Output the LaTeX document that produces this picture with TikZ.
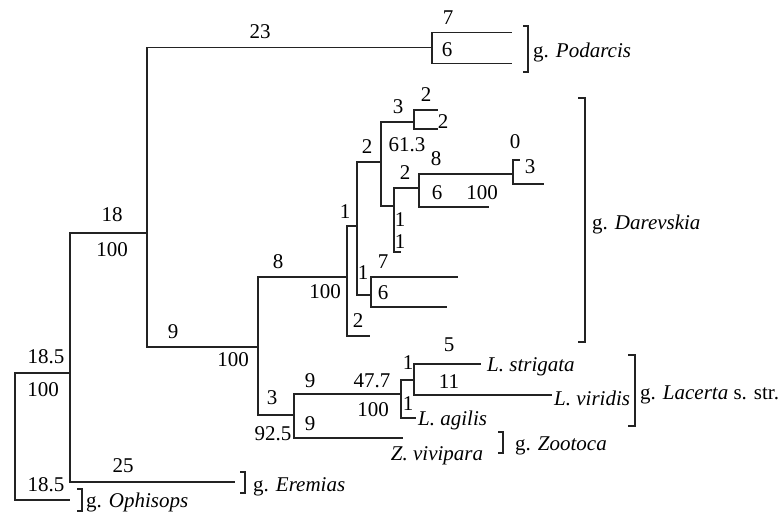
\documentclass[tikz,border=0pt]{standalone}
\usepackage{fontspec}
\setmainfont{Liberation Serif}
\definecolor{treeline}{RGB}{35,35,35}
\begin{document}
\begin{tikzpicture}[x=1pt,y=-1pt,
  branch/.style={line width=1.2pt, draw=treeline},
  bracket/.style={line width=1.2pt, draw=treeline},
  num/.style={font=\fontsize{21}{24}\selectfont, inner sep=0pt, text=black},
  taxon/.style={font=\fontsize{21}{24}\selectfont\itshape, inner sep=0pt, anchor=west, text=black},
  genus/.style={font=\fontsize{21}{24}\selectfont, inner sep=0pt, anchor=west, text=black}]
\useasboundingbox (0,0) rectangle (778,515);

% internal nodes of the tree
\coordinate (root) at (15,436);
\coordinate (A) at (70,373);
\coordinate (B) at (147,233);
\coordinate (P) at (432,47.7);
\coordinate (C) at (258,347);
\coordinate (D) at (347,277);
\coordinate (E) at (357,226);
\coordinate (F) at (381,162);
\coordinate (G) at (371,295);
\coordinate (H) at (414,122);
\coordinate (I) at (394,206);
\coordinate (J) at (419,188);
\coordinate (K) at (513,174);
\coordinate (L) at (294,415);
\coordinate (M) at (401,394);
\coordinate (N) at (414,380);

% branch tips
\coordinate (ophisops) at (70,500);
\coordinate (eremias) at (235,482);
\coordinate (pod1) at (512,32.3);
\coordinate (pod2) at (512,63.7);
\coordinate (dlow) at (370,336);
\coordinate (g1) at (458,277);
\coordinate (g2) at (447,307);
\coordinate (h1) at (438,110);
\coordinate (h2) at (438,129);
\coordinate (ilow) at (401,252);
\coordinate (jlow) at (489,207);
\coordinate (k1) at (520,160);
\coordinate (k2) at (544,184);
\coordinate (zoo) at (403,438);
\coordinate (agil) at (416,418);
\coordinate (strig) at (481,364);
\coordinate (virid) at (552,395);

% branches
\draw[branch] (root) |- (A);
\draw[branch] (root) |- (ophisops);
\draw[branch] (A) |- (B);
\draw[branch] (A) |- (eremias);
\draw[branch] (B) |- (P);
\draw[branch] (B) |- (C);
\draw[branch] (P) |- (pod1);
\draw[branch] (P) |- (pod2);
\draw[branch] (C) |- (D);
\draw[branch] (C) |- (L);
\draw[branch] (D) |- (E);
\draw[branch] (D) |- (dlow);
\draw[branch] (E) |- (F);
\draw[branch] (E) |- (G);
\draw[branch] (G) |- (g1);
\draw[branch] (G) |- (g2);
\draw[branch] (F) |- (H);
\draw[branch] (F) |- (I);
\draw[branch] (H) |- (h1);
\draw[branch] (H) |- (h2);
\draw[branch] (I) |- (J);
\draw[branch] (I) |- (ilow);
\draw[branch] (J) |- (K);
\draw[branch] (J) |- (jlow);
\draw[branch] (K) |- (k1);
\draw[branch] (K) |- (k2);
\draw[branch] (L) |- (M);
\draw[branch] (L) |- (zoo);
\draw[branch] (M) |- (N);
\draw[branch] (M) |- (agil);
\draw[branch] (N) |- (strig);
\draw[branch] (N) |- (virid);

% branch lengths and support values
\node[num] (t1) at (46,357) {18.5};
\node[num] (t2) at (43,390) {100};
\node[num] (t3) at (46,485) {18.5};
\node[num] (t4) at (112,215) {18};
\node[num] (t5) at (112,250) {100};
\node[num] (t6) at (123,466) {25};
\node[num] (t7) at (260,32) {23};
\node[num] (t8) at (173,332) {9};
\node[num] (t9) at (233,360) {100};
\node[num] (t10) at (448,18) {7};
\node[num] (t11) at (447,50) {6};
\node[num] (t12) at (278,262) {8};
\node[num] (t13) at (325,292) {100};
\node[num] (t14) at (272,398) {3};
\node[num] (t15) at (273,434) {92.5};
\node[num] (t16) at (310,381) {9};
\node[num] (t17) at (372,381) {47.7};
\node[num] (t18) at (373,410) {100};
\node[num] (t19) at (310,424) {9};
\node[num] (t20) at (408,363) {1};
\node[num] (t21) at (408,404) {1};
\node[num] (t22) at (449,345) {5};
\node[num] (t23) at (449,382) {11};
\node[num] (t24) at (345,212) {1};
\node[num] (t25) at (358,321) {2};
\node[num] (t26) at (367,147) {2};
\node[num] (t27) at (363,273) {1};
\node[num] (t28) at (383,262) {7};
\node[num] (t29) at (383,293) {6};
\node[num] (t30) at (398,107) {3};
\node[num] (t31) at (407,145) {61.3};
\node[num] (t32) at (426,95) {2};
\node[num] (t33) at (443,122) {2};
\node[num] (t34) at (405,173) {2};
\node[num] (t35) at (400,220) {1};
\node[num] (t36) at (400,242) {1};
\node[num] (t37) at (436,159) {8};
\node[num] (t38) at (437,193) {6};
\node[num] (t39) at (482,193) {100};
\node[num] (t40) at (515,142) {0};
\node[num] (t41) at (530,167) {3};

% species
\node[taxon] (sp1) at (487,367) {L. strigata};
\node[taxon] (sp2) at (554,398) {L. viridis};
\node[taxon] (sp3) at (418,420) {L. agilis};
\node[taxon, anchor=center] (sp4) at (437,456) {Z. vivipara};

% genus brackets
\draw[bracket] (523,26) -| (528,72) -- (523,72);
\draw[bracket] (578,98) -| (585,342) -- (578,342);
\draw[bracket] (628,355) -| (635,426) -- (628,426);
\draw[bracket] (498,432) -| (503,453) -- (498,453);
\draw[bracket] (240,472) -| (245,493) -- (240,493);
\draw[bracket] (77,489) -| (82,511) -- (77,511);

\node[genus] (gp) at (533,52) {g. \textit{Podarcis}};
\node[genus] (gd) at (592,224) {g. \textit{Darevskia}};
\node[genus] (gl) at (640,395) {g. \textit{Lacerta} s. str.};
\node[genus] (gz) at (515,446) {g. \textit{Zootoca}};
\node[genus] (ge) at (253,487) {g. \textit{Eremias}};
\node[genus] (go) at (86,502) {g. \textit{Ophisops}};
\end{tikzpicture}
\end{document}
